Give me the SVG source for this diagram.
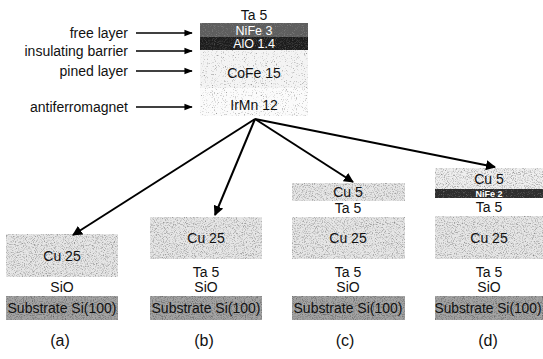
<svg xmlns="http://www.w3.org/2000/svg" width="543" height="359" viewBox="0 0 543 359">
  <style>
    text { font-family: "Liberation Sans", Arial, sans-serif; fill: #111; text-anchor: middle; }
    .lbl { font-size: 14px; text-anchor: end; }
    .t14 { font-size: 14px; }
    .inv { fill: #fff; font-size: 12.5px; }
    .small { fill: #fff; font-size: 9px; font-weight: bold; }
    .cap { font-size: 16px; }
    .conn { stroke: #000; stroke-width: 2; fill: none; }
    .pt { stroke: #000; stroke-width: 1.4; fill: none; }
  </style>
  <defs>
    <marker id="head" viewBox="0 0 10 10" refX="9" refY="5" markerWidth="5" markerHeight="5" orient="auto" markerUnits="strokeWidth">
      <path d="M0,0 L10,5 L0,10 z" fill="#000"/>
    </marker>
    <marker id="headS" viewBox="0 0 10 10" refX="9" refY="5" markerWidth="6" markerHeight="6" orient="auto" markerUnits="strokeWidth">
      <path d="M0,1 L10,5 L0,9 z" fill="#000"/>
    </marker>
    <!-- grain overlays: gray speckle of varying density over a flat fill -->
    <filter id="grainSparse" x="0" y="0" width="100%" height="100%" color-interpolation-filters="sRGB">
      <feTurbulence type="fractalNoise" baseFrequency="0.9" numOctaves="2" seed="4" result="n"/>
      <feColorMatrix in="n" type="matrix" values="0 0 0 0 0.55  0 0 0 0 0.55  0 0 0 0 0.55  3 0 0 0 -1.75" result="dots"/>
      <feComposite in="dots" in2="SourceGraphic" operator="in" result="d"/>
      <feMerge><feMergeNode in="SourceGraphic"/><feMergeNode in="d"/></feMerge>
    </filter>
    <filter id="grainMid" x="0" y="0" width="100%" height="100%" color-interpolation-filters="sRGB">
      <feTurbulence type="fractalNoise" baseFrequency="0.9" numOctaves="2" seed="7" result="n"/>
      <feColorMatrix in="n" type="matrix" values="0 0 0 0 0.5  0 0 0 0 0.5  0 0 0 0 0.5  2.2 0 0 0 -1.05" result="dots"/>
      <feComposite in="dots" in2="SourceGraphic" operator="in" result="d"/>
      <feMerge><feMergeNode in="SourceGraphic"/><feMergeNode in="d"/></feMerge>
    </filter>
    <filter id="grainDense" x="0" y="0" width="100%" height="100%" color-interpolation-filters="sRGB">
      <feTurbulence type="fractalNoise" baseFrequency="0.9" numOctaves="2" seed="11" result="n"/>
      <feColorMatrix in="n" type="matrix" values="0 0 0 0 0.35  0 0 0 0 0.35  0 0 0 0 0.35  2 0 0 0 -0.9" result="dots"/>
      <feComposite in="dots" in2="SourceGraphic" operator="in" result="d"/>
      <feMerge><feMergeNode in="SourceGraphic"/><feMergeNode in="d"/></feMerge>
    </filter>
    <filter id="grainLightDots" x="0" y="0" width="100%" height="100%" color-interpolation-filters="sRGB">
      <feTurbulence type="fractalNoise" baseFrequency="0.9" numOctaves="2" seed="5" result="n"/>
      <feColorMatrix in="n" type="matrix" values="0 0 0 0 0.6  0 0 0 0 0.6  0 0 0 0 0.6  2 0 0 0 -1.1" result="dots"/>
      <feComposite in="dots" in2="SourceGraphic" operator="in" result="d"/>
      <feMerge><feMergeNode in="SourceGraphic"/><feMergeNode in="d"/></feMerge>
    </filter>
  </defs>

  <!-- magnetic tunnel junction stack -->
  <g id="mtj-stack">
    <text class="t14" x="254" y="19.5">Ta 5</text>
    <rect x="200" y="23" width="108" height="14" fill="#5e5e5e" filter="url(#grainLightDots)"/>
    <rect x="200" y="37" width="108" height="13" fill="#1c1c1c" filter="url(#grainDense)"/>
    <rect x="200" y="50" width="108" height="38" fill="#f4f4f4" filter="url(#grainSparse)"/>
    <rect x="200" y="88" width="108" height="28" fill="#fbfbfb" filter="url(#grainSparse)"/>
    <text class="inv" x="254" y="35">NiFe 3</text>
    <text class="inv" x="254" y="48">AlO 1.4</text>
    <text class="t14" x="254" y="78">CoFe 15</text>
    <text class="t14" x="254" y="110">IrMn 12</text>
  </g>

  <!-- layer names pointing at the stack -->
  <g id="layer-labels">
    <text class="lbl" x="128" y="38">free layer</text>
    <text class="lbl" x="128" y="56">insulating barrier</text>
    <text class="lbl" x="128" y="76">pined layer</text>
    <text class="lbl" x="128" y="112">antiferromagnet</text>
  </g>

  <!-- sample (a) -->
  <g id="sample-a">
    <rect x="6" y="234" width="112" height="43" fill="#e6e6e6" filter="url(#grainMid)"/>
    <text class="t14" x="62" y="261">Cu 25</text>
    <text class="t14" x="62" y="292">SiO</text>
    <rect x="6" y="296" width="112" height="24" fill="#a4a4a4" filter="url(#grainDense)"/>
    <text class="t14" x="62" y="313">Substrate Si(100)</text>
    <text class="cap" x="60" y="346">(a)</text>
  </g>

  <!-- sample (b) -->
  <g id="sample-b">
    <rect x="150" y="217" width="112" height="42" fill="#e6e6e6" filter="url(#grainMid)"/>
    <text class="t14" x="206" y="243">Cu 25</text>
    <text class="t14" x="206" y="277">Ta 5</text>
    <text class="t14" x="206" y="292">SiO</text>
    <rect x="150" y="296" width="112" height="24" fill="#a4a4a4" filter="url(#grainDense)"/>
    <text class="t14" x="206" y="313">Substrate Si(100)</text>
    <text class="cap" x="204" y="346">(b)</text>
  </g>

  <!-- sample (c) -->
  <g id="sample-c">
    <rect x="292" y="183" width="113" height="18" fill="#e6e6e6" filter="url(#grainMid)"/>
    <text class="t14" x="348" y="197">Cu 5</text>
    <text class="t14" x="348" y="213">Ta 5</text>
    <rect x="292" y="217" width="113" height="42" fill="#e6e6e6" filter="url(#grainMid)"/>
    <text class="t14" x="348" y="243">Cu 25</text>
    <text class="t14" x="348" y="277">Ta 5</text>
    <text class="t14" x="348" y="292">SiO</text>
    <rect x="292" y="296" width="113" height="24" fill="#a4a4a4" filter="url(#grainDense)"/>
    <text class="t14" x="348" y="313">Substrate Si(100)</text>
    <text class="cap" x="345" y="346">(c)</text>
  </g>

  <!-- sample (d) -->
  <g id="sample-d">
    <rect x="435" y="168" width="112" height="21" fill="#efefef" filter="url(#grainMid)"/>
    <text class="t14" x="489" y="184">Cu 5</text>
    <rect x="435" y="189" width="112" height="9" fill="#2e2e2e" filter="url(#grainLightDots)"/>
    <text class="small" x="489" y="197">NiFe 2</text>
    <text class="t14" x="489" y="212">Ta 5</text>
    <rect x="435" y="216" width="112" height="43" fill="#e6e6e6" filter="url(#grainMid)"/>
    <text class="t14" x="489" y="243">Cu 25</text>
    <text class="t14" x="489" y="277">Ta 5</text>
    <text class="t14" x="489" y="292">SiO</text>
    <rect x="435" y="296" width="112" height="24" fill="#a4a4a4" filter="url(#grainDense)"/>
    <text class="t14" x="488" y="313" textLength="107" lengthAdjust="spacingAndGlyphs">Substrate Si(100)</text>
    <text class="cap" x="488" y="346">(d)</text>
  </g>

  <!-- connectors -->
  <g id="connectors">
    <line class="pt" x1="136" y1="33" x2="192" y2="33" marker-end="url(#headS)"/>
    <line class="pt" x1="136" y1="51" x2="192" y2="51" marker-end="url(#headS)"/>
    <line class="pt" x1="136" y1="71" x2="192" y2="71" marker-end="url(#headS)"/>
    <line class="pt" x1="136" y1="107" x2="192" y2="107" marker-end="url(#headS)"/>
    <line class="conn" x1="255" y1="119" x2="73" y2="235" marker-end="url(#head)"/>
    <line class="conn" x1="255" y1="119" x2="215" y2="215" marker-end="url(#head)"/>
    <line class="conn" x1="255" y1="119" x2="353" y2="182" marker-end="url(#head)"/>
    <line class="conn" x1="255" y1="119" x2="495" y2="167" marker-end="url(#head)"/>
  </g>
</svg>
